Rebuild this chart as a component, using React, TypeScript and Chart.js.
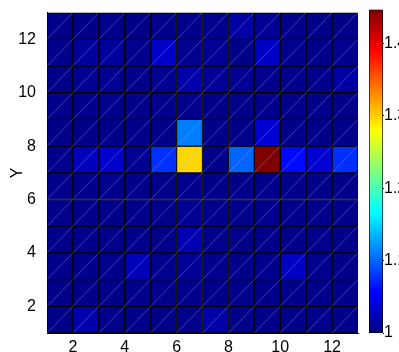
import React, { useEffect, useRef } from 'react';
import { Chart, registerables } from 'chart.js';

Chart.register(...registerables);

// Cell left/bottom edges
const xCells = [1, 2, 3, 4, 5, 6, 7, 8, 9, 10, 11, 12];
const yCells = [1, 2, 3, 4, 5, 6, 7, 8, 9, 10, 11, 12];
const xTicks = [2, 4, 6, 8, 10, 12];
const yTicks = [2, 4, 6, 8, 10, 12];
const cbTicks = [1, 1.1, 1.2, 1.3, 1.4];
const yTitle = 'Y';
const zMin = 1.0;
const zMax = 1.447;

// values per row (Y cell starting at 1 .. 12), columns X = 1..12
const rowY1 = [1.004, 1.021, 1.005, 1.005, 1.004, 1.005, 1.018, 1.005, 1.006, 1.005, 1.006, 1.005];
const rowY2 = [1.004, 1.005, 1.005, 1.005, 1.005, 1.006, 1.005, 1.005, 1.005, 1.005, 1.005, 1.005];
const rowY3 = [1.005, 1.005, 1.005, 1.025, 1.006, 1.009, 1.006, 1.006, 1.006, 1.029, 1.006, 1.005];
const rowY4 = [1.005, 1.006, 1.005, 1.006, 1.005, 1.022, 1.007, 1.005, 1.006, 1.005, 1.006, 1.005];
const rowY5 = [1.005, 1.006, 1.005, 1.005, 1.005, 1.008, 1.006, 1.005, 1.005, 1.006, 1.005, 1.005];
const rowY6 = [1.005, 1.005, 1.006, 1.005, 1.005, 1.006, 1.005, 1.005, 1.006, 1.005, 1.005, 1.005];
const rowY7 = [1.006, 1.027, 1.034, 1.008, 1.077, 1.297, 1.005, 1.1, 1.447, 1.06, 1.037, 1.076];
const rowY8 = [1.004, 1.005, 1.005, 1.005, 1.004, 1.111, 1.004, 1.005, 1.036, 1.005, 1.004, 1.005];
const rowY9 = [1.005, 1.005, 1.006, 1.005, 1.006, 1.005, 1.004, 1.005, 1.006, 1.005, 1.005, 1.005];
const rowY10 = [1.005, 1.008, 1.008, 1.006, 1.008, 1.019, 1.011, 1.008, 1.006, 1.006, 1.006, 1.015];
const rowY11 = [1.005, 1.012, 1.013, 1.006, 1.032, 1.007, 1.008, 1.004, 1.03, 1.006, 1.005, 1.007];
const rowY12 = [1.005, 1.004, 1.005, 1.004, 1.006, 1.005, 1.006, 1.016, 1.009, 1.005, 1.005, 1.004];
const zRows = [rowY1, rowY2, rowY3, rowY4, rowY5, rowY6, rowY7, rowY8, rowY9, rowY10, rowY11, rowY12];

const FONT_FAMILY = '"Liberation Sans Narrow", "Liberation Sans", Arial, sans-serif';
const FONT_SIZE = 16;

function clamp01(v: number) {
  return Math.max(0, Math.min(1, v));
}
function jet(t: number): string {
  const tt = clamp01(t);
  const r = clamp01(1.5 - Math.abs(4 * tt - 3));
  const g = clamp01(1.5 - Math.abs(4 * tt - 2));
  const b = clamp01(1.5 - Math.abs(4 * tt - 1));
  return `rgb(${Math.round(r * 255)},${Math.round(g * 255)},${Math.round(b * 255)})`;
}

export default function App() {
  const mainRef = useRef<HTMLCanvasElement | null>(null);
  const cbRef = useRef<HTMLCanvasElement | null>(null);

  useEffect(() => {
    if (!mainRef.current || !cbRef.current) return;
    const font = { family: FONT_FAMILY, size: FONT_SIZE };
    const cells: { x: number; y: [number, number] }[] = [];
    const colors: string[] = [];
    yCells.forEach((yv, i) => {
      xCells.forEach((xv, j) => {
        const z = zRows[i][j];
        cells.push({ x: xv + 0.5, y: [yv, yv + 1] });
        colors.push(jet((z - zMin) / (zMax - zMin)));
      });
    });
    const x0 = xCells[0];
    const x1 = xCells[xCells.length - 1] + 1;
    const y0 = yCells[0];
    const y1 = yCells[yCells.length - 1] + 1;
    const diag: { x: number; y: number | null }[] = [];
    for (let c = y0 - x1 + 1; c <= y1 - x0 - 1; c++) {
      const xs = Math.max(x0, y0 - c);
      const xe = Math.min(x1, y1 - c);
      diag.push({ x: xs, y: xs + c });
      diag.push({ x: xe, y: xe + c });
      diag.push({ x: xe, y: null });
    }

    const main = new Chart(mainRef.current, {
      type: 'bar',
      data: {
        datasets: [
          {
            type: 'bar',
            data: cells as any,
            backgroundColor: colors,
            borderColor: '#000',
            borderWidth: 1,
            borderSkipped: false,
            barPercentage: 1,
            categoryPercentage: 1,
            order: 1,
          } as any,
          {
            type: 'line',
            data: diag as any,
            borderColor: 'rgba(180,180,255,0.32)',
            borderWidth: 1,
            pointRadius: 0,
            spanGaps: false,
            order: 0,
          } as any,
        ],
      },
      options: {
        animation: false,
        responsive: false,
        maintainAspectRatio: false,
        layout: { padding: { top: 7, right: 8, left: 0, bottom: 0 } },
        plugins: { legend: { display: false }, tooltip: { enabled: false } },
        scales: {
          x: {
            type: 'linear',
            min: x0,
            max: x1,
            offset: false,
            grid: { display: false },
            border: { display: true, color: '#000', width: 1 },
            ticks: { font, color: '#000', padding: -3, maxRotation: 0, autoSkip: false },
            afterBuildTicks: (s: any) => {
              s.ticks = xTicks.map((v) => ({ value: v }));
            },
            afterFit: (s: any) => {
              s.height = 19;
            },
          },
          y: {
            type: 'linear',
            min: y0,
            max: y1,
            grid: { display: false },
            border: { display: true, color: '#000', width: 1 },
            ticks: { font, color: '#000', padding: 3, autoSkip: false },
            title: { display: true, text: yTitle, font, color: '#000', padding: { top: 8, bottom: 0 } },
            afterBuildTicks: (s: any) => {
              s.ticks = yTicks.map((v) => ({ value: v }));
            },
            afterFit: (s: any) => {
              s.width = 47;
            },
          },
        },
      } as any,
    });

    const cb = new Chart(cbRef.current, {
      type: 'bar',
      data: {
        labels: [''],
        datasets: [
          {
            data: [[zMin, zMax]] as any,
            backgroundColor: (ctx: any) => {
              const area = ctx.chart.chartArea;
              if (!area) return '#00f';
              const g = ctx.chart.ctx.createLinearGradient(0, area.bottom, 0, area.top);
              [0, 0.125, 0.375, 0.625, 0.875, 1].forEach((t) => g.addColorStop(t, jet(t)));
              return g;
            },
            borderColor: '#000',
            borderWidth: 1,
            borderSkipped: false,
            barPercentage: 1,
            categoryPercentage: 1,
          } as any,
        ],
      },
      options: {
        animation: false,
        responsive: false,
        maintainAspectRatio: false,
        layout: { padding: { top: 7, right: 0, left: 9, bottom: 19 } },
        plugins: { legend: { display: false }, tooltip: { enabled: false } },
        scales: {
          x: { display: false },
          y: {
            position: 'right',
            min: zMin,
            max: zMax,
            grid: { display: true, drawOnChartArea: false, drawTicks: true, tickLength: 1, color: '#000' },
            border: { display: false },
            ticks: {
              font,
              color: '#000',
              padding: 0,
              autoSkip: false,
              callback: (v: any) => String(Math.round(Number(v) * 10) / 10),
            },
            afterBuildTicks: (s: any) => {
              s.ticks = cbTicks.map((v) => ({ value: v }));
            },
            afterFit: (s: any) => {
              s.width = 16;
            },
          },
        },
      } as any,
    });

    return () => {
      main.destroy();
      cb.destroy();
    };
  }, []);

  return (
    <div style={{ position: 'fixed', left: 0, top: 0, width: 399, height: 352, background: '#fff', overflow: 'hidden' }}>
      <canvas ref={mainRef} width={366} height={352} style={{ position: 'absolute', left: 0, top: 0, width: 366, height: 352 }} />
      <canvas ref={cbRef} width={39} height={352} style={{ position: 'absolute', left: 360, top: 0, width: 39, height: 352 }} />
    </div>
  );
}
